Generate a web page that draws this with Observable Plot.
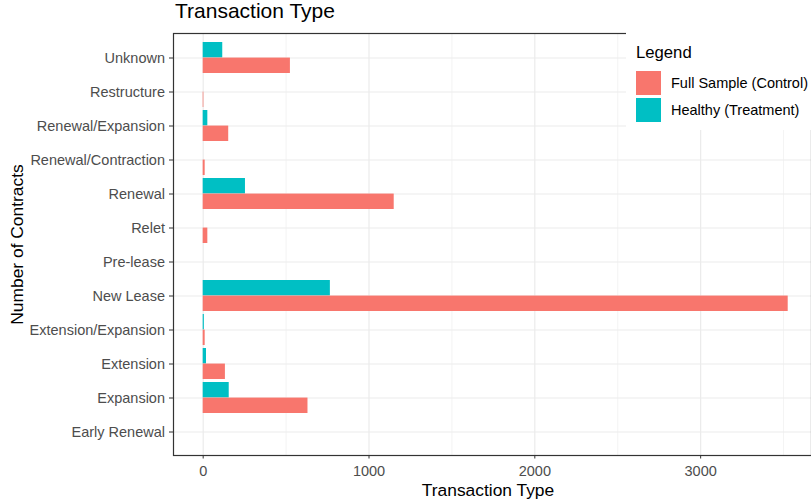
<!DOCTYPE html>
<html>
<head>
<meta charset="utf-8">
<script src="https://cdn.jsdelivr.net/npm/d3@7"></script>
<script src="https://cdn.jsdelivr.net/npm/@observablehq/plot@0.6"></script>
<style>
  html, body { margin: 0; padding: 0; background: #fff; overflow: hidden; }
  #wrap { position: relative; width: 811px; height: 502px; overflow: hidden; font-family: "Liberation Sans", Arial, sans-serif; }
  #title { position: absolute; left: 175px; top: 0px; font-size: 21px; line-height: 1; color: #000; white-space: nowrap; }
  #legend { position: absolute; left: 626px; top: 26px; width: 185px; height: 104px; background: #fff; }
  #legend .lt { position: absolute; left: 10px; top: 19px; font-size: 16.7px; line-height: 1; color: #000; white-space: nowrap; }
  #legend .sw { position: absolute; left: 10px; width: 25px; height: 24px; }
  #legend .lab { position: absolute; left: 45px; font-size: 14.5px; line-height: 1; color: #000; white-space: nowrap; }
</style>
</head>
<body>
<div id="wrap">
  <div id="chart"></div>
  <div id="title"></div>
  <div id="legend"></div>
</div>
<script>
// ---- data ----
const categories = ["Unknown", "Restructure", "Renewal/Expansion", "Renewal/Contraction", "Renewal", "Relet", "Pre-lease", "New Lease", "Extension/Expansion", "Extension", "Expansion", "Early Renewal"];
const fullSample = [526, 4, 154, 12, 1152, 28, 0, 3528, 12, 134, 632, 0];
const healthy    = [118, 0, 28, 0, 255, 0, 0, 767, 7, 20, 157, 0];
const seriesNames = ["Full Sample (Control)", "Healthy (Treatment)"];
const seriesColors = ["#F8766D", "#00BFC4"];
const xTicks = [0, 1000, 2000, 3000];
const xMinor = [500, 1500, 2500, 3500];
const titleText = "Transaction Type";
const xLabel = "Transaction Type";
const yLabel = "Number of Contracts";
const legendTitle = "Legend";

const rows = [];
categories.forEach((c, i) => {
  rows.push({cat: c, series: seriesNames[0], value: fullSample[i]});
  rows.push({cat: c, series: seriesNames[1], value: healthy[i]});
});

const W = 811, H = 502, mTop = 33, mBottom = 47, mLeft = 173;
const innerH = H - mTop - mBottom;
const pIn = 0.1, pOut = 0.15;
const step = innerH / (categories.length - pIn + 2 * pOut);
const half = step * (1 - pIn) / 2;

const font = "Liberation Sans, Arial, sans-serif";

const plot = Plot.plot({
  width: W,
  height: H,
  marginTop: mTop,
  marginBottom: mBottom,
  marginLeft: mLeft,
  marginRight: 0,
  style: {fontFamily: font, background: "#fff", overflow: "hidden"},
  x: {domain: [-179, 3765], range: [mLeft, 827]},
  y: {domain: categories, paddingInner: pIn, paddingOuter: pOut},
  marks: [
    Plot.gridX({ticks: xMinor, stroke: "#EBEBEB", strokeOpacity: 1, strokeWidth: 0.6}),
    Plot.gridX({ticks: xTicks, stroke: "#EBEBEB", strokeOpacity: 1, strokeWidth: 1.2}),
    Plot.gridY({stroke: "#EBEBEB", strokeOpacity: 1, strokeWidth: 1.2}),
    Plot.barX(rows.filter(d => d.series === seriesNames[1]), {x: "value", y: "cat", fill: seriesColors[1], insetBottom: half}),
    Plot.barX(rows.filter(d => d.series === seriesNames[0]), {x: "value", y: "cat", fill: seriesColors[0], insetTop: half}),
    Plot.frame({stroke: "#333333", strokeWidth: 1.2}),
    Plot.axisY({label: null, tickSize: 4, tickPadding: 4.5, fontSize: 14.5, color: "#4D4D4D", stroke: "#333333"}),
    Plot.axisX({ticks: xTicks, label: null, tickSize: 3.5, tickPadding: 7, fontSize: 14.5, color: "#4D4D4D", stroke: "#333333", tickFormat: d => String(d)}),
    Plot.text([xLabel], {frameAnchor: "bottom", lineAnchor: "middle", textAnchor: "middle", dx: -4.5, dy: 35, fontSize: 17.4, fill: "#000"}),
    Plot.text([yLabel], {frameAnchor: "left", lineAnchor: "middle", textAnchor: "middle", rotate: -90, dx: -156, fontSize: 17.4, fill: "#000"})
  ]
});
document.getElementById("chart").appendChild(plot);

document.getElementById("title").textContent = titleText;

const lg = document.getElementById("legend");
const lt = document.createElement("div");
lt.className = "lt"; lt.textContent = legendTitle; lg.appendChild(lt);
seriesNames.forEach((s, i) => {
  const sw = document.createElement("div");
  sw.className = "sw"; sw.style.top = (45 + i * 27) + "px"; sw.style.background = seriesColors[i];
  lg.appendChild(sw);
  const lab = document.createElement("div");
  lab.className = "lab"; lab.style.top = (50 + i * 27) + "px"; lab.textContent = s;
  lg.appendChild(lab);
});
</script>
</body>
</html>
